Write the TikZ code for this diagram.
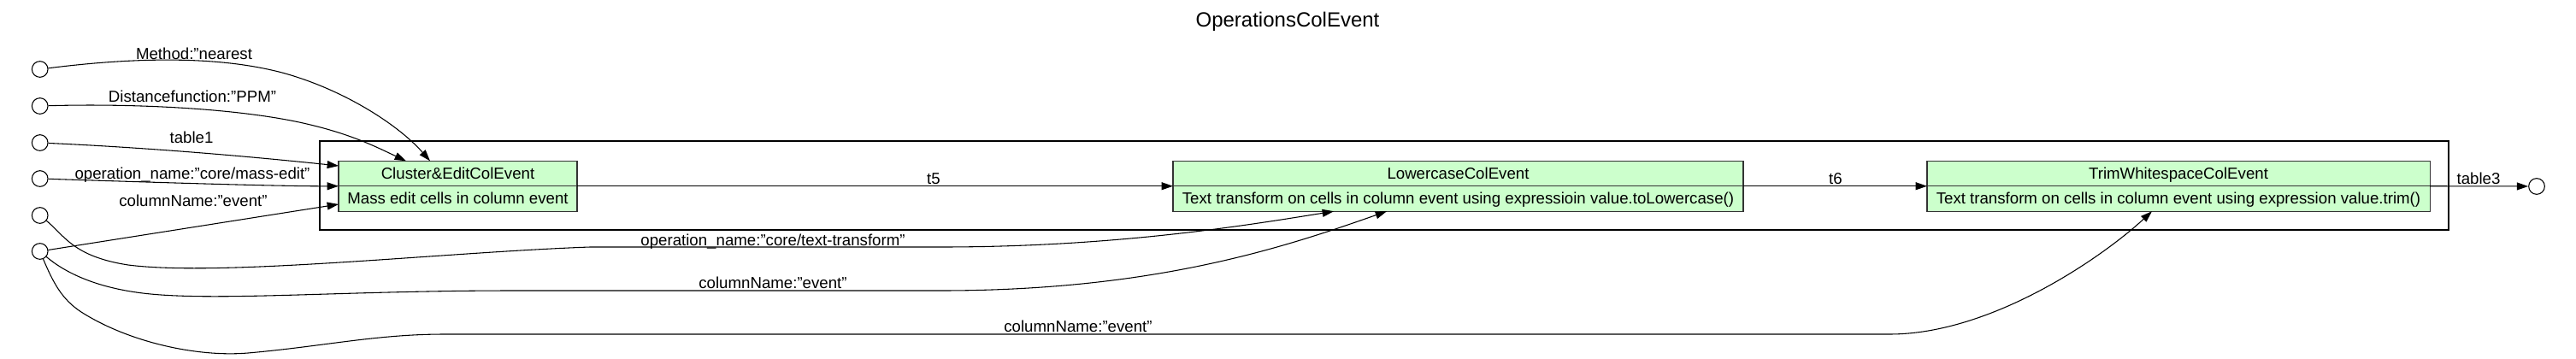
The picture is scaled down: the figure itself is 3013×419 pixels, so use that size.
\documentclass[tikz,border=0pt]{standalone}
\usepackage{fontspec}
\setmainfont{Liberation Sans}
\usetikzlibrary{arrows.meta,positioning,calc}
\definecolor{recgreen}{HTML}{CCFFCC}

\begin{document}
\begin{tikzpicture}[x=0.75pt, y=-0.75pt,
    every node/.style={font=\fontsize{14}{16}\selectfont},
    port/.style={draw, circle, minimum size=14pt, inner sep=0pt, line width=0.8pt},
    rec/.style={draw=black!80, fill=recgreen, rectangle, minimum height=22.1pt,
        inner sep=0pt, outer sep=0pt, text height=11pt, text depth=2pt, line width=0.8pt},
    edge/.style={-{Triangle[length=10pt,width=6.7pt]}, line width=0.8pt},
    lbl/.style={inner sep=0pt, anchor=base}]
    \useasboundingbox (0,0) rectangle (3013,419);

    % Titulo
    \node[lbl, font=\fontsize{18}{20}\selectfont] (title) at (1506,31.6) {OperationsColEvent};

    % Cluster
    \draw[line width=2pt] (374,165) rectangle (2864,269);

    % Registros
    \node[rec, minimum width=209.25pt] (clT) at (535.5,203) {Cluster\&EditColEvent};
    \node[rec, minimum width=209.25pt, below=0pt of clT] (clB) {Mass edit cells in column event};
    \node[rec, minimum width=500.25pt] (lcT) at (1705.5,203) {LowercaseColEvent};
    \node[rec, minimum width=500.25pt, below=0pt of lcT] (lcB) {Text transform on cells in column event using expressioin value.toLowercase()};
    \node[rec, minimum width=441pt] (trT) at (2548,203) {TrimWhitespaceColEvent};
    \node[rec, minimum width=441pt, below=0pt of trT] (trB) {Text transform on cells in column event using expression value.trim()};

    % Entradas y salida
    \node[port] (inMethod) at (46.7,81) {};
    \node[port] (inDist) at (46.7,124) {};
    \node[port] (inTable) at (46.7,167) {};
    \node[port] (inOpEdit) at (46.7,209) {};
    \node[port] (inOpText) at (46.7,252) {};
    \node[port] (inCol) at (46.7,294) {};
    \node[port] (outTable) at (2967,218) {};

    % Aristas
    \draw[edge] (inMethod) .. controls (150,68) and (250,64) .. (330,85)
        .. controls (400,104) and (465,145) .. ($(clT.north west)+(107,0)$);
    \draw[edge] (inDist) .. controls (150,121) and (270,126) .. (350,143)
        .. controls (410,156) and (440,172) .. ($(clT.north west)+(79,0)$);
    \draw[edge] (inTable) .. controls (200,174) and (330,187) .. ($(clT.west)+(0,-9)$);
    \draw[edge] (inOpEdit) .. controls (200,214) and (330,218) .. (clT.south west);
    \draw[edge] (inCol) -- ($(clB.west)+(0,6.5)$);
    \draw[edge] (inOpText) .. controls (75,275) and (85,300) .. (150,310)
        .. controls (260,324) and (520,295) .. (690,289) -- (1100,289)
        .. controls (1300,289) and (1450,265) .. ($(lcB.south west)+(188,0)$);
    \draw[edge] (inCol) .. controls (75,318) and (110,336) .. (167,343)
        .. controls (250,353) and (400,340) .. (600,340) -- (1100,340)
        .. controls (1350,340) and (1500,290) .. ($(lcB.south west)+(250,0)$);
    \draw[edge] (inCol) .. controls (62,330) and (72,350) .. (95,365)
        .. controls (150,400) and (230,418) .. (290,413)
        .. controls (380,405) and (440,391) .. (520,391) -- (2210,391)
        .. controls (2330,391) and (2460,300) .. ($(trB.south west)+(263,0)$);
    \draw[edge] (clT.south east) -- (lcT.south west);
    \draw[edge] (lcT.south east) -- (trT.south west);
    \draw[edge] (trT.south east) -- (outTable);

    % Etiquetas
    \node[lbl] (lMethod) at (227,69.5) {Method:"nearest};
    \node[lbl] (lDist) at (225,119.5) {Distancefunction:"PPM"};
    \node[lbl] (lTable) at (224,167.5) {table1};
    \node[lbl] (lOpEdit) at (225,209.5) {operation\_name:"core/mass-edit"};
    \node[lbl] (lColCl) at (226,241.5) {columnName:"event"};
    \node[lbl] (lOpText) at (904,287.5) {operation\_name:"core/text-transform"};
    \node[lbl] (lColLc) at (904,337.5) {columnName:"event"};
    \node[lbl] (lColTr) at (1261,388.5) {columnName:"event"};
    \node[lbl] (lFive) at (1092,215.5) {t5};
    \node[lbl] (lSix) at (2147,215.5) {t6};
    \node[lbl] (lOut) at (2899,215.5) {table3};
\end{tikzpicture}
\end{document}
